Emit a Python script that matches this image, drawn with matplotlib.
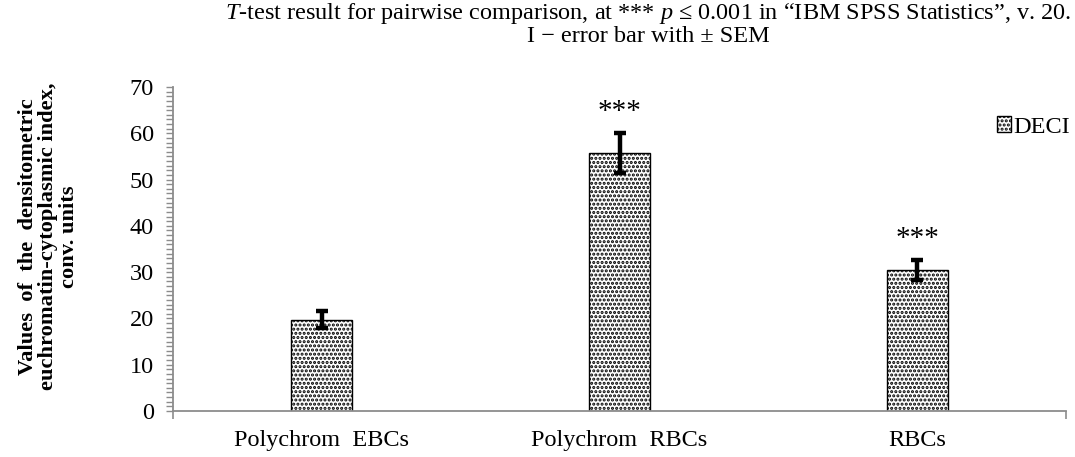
import matplotlib
matplotlib.use("Agg")
import matplotlib.pyplot as plt
from matplotlib.patches import Patch
from matplotlib.ticker import MultipleLocator, FixedLocator

categories = ["Polychrom  EBCs", "Polychrom  RBCs", "RBCs"]
values = [19.7, 55.7, 30.5]
sem = [1.8, 4.3, 2.2]
stars = ["", "***", "***"]
series_name = "DECI"

plt.rcParams['font.family'] = ['Liberation Serif', 'DejaVu Serif']
plt.rcParams['mathtext.fontset'] = 'custom'
plt.rcParams['mathtext.rm'] = 'Liberation Serif'
plt.rcParams['mathtext.it'] = 'Liberation Serif:italic'
plt.rcParams['hatch.linewidth'] = 1.5

FS = 17.5

fig = plt.figure(figsize=(10.75, 4.57), dpi=100)
ax = fig.add_axes([0.161, 0.1007, 0.8306, 0.7089])

x = list(range(len(categories)))
ax.bar(x, values, width=0.205, color='white', edgecolor='black', linewidth=1.0,
       hatch='....', zorder=2)
ax.errorbar(x, values, yerr=sem, fmt='none', ecolor='black', elinewidth=3.2,
            capsize=4, capthick=3.2, zorder=3)
for xi, v, e, s in zip(x, values, sem, stars):
    if s:
        ax.text(xi, v + e + 3.0, s, ha='center', va='baseline', fontsize=21)

ax.set_xlim(-0.5, 2.5)
ax.set_ylim(0, 70)
ax.yaxis.set_major_locator(MultipleLocator(10))
ax.yaxis.set_minor_locator(MultipleLocator(1))
ax.tick_params(axis='y', which='both', direction='out', length=5, width=1,
               color='#8c8c8c', labelsize=FS, pad=9)
ax.set_xticks(x)
ax.set_xticklabels(categories)
ax.xaxis.set_minor_locator(FixedLocator([-0.5, 2.5]))
ax.tick_params(axis='x', which='major', length=0, labelsize=FS, pad=14)
ax.tick_params(axis='x', which='minor', direction='out', length=6, width=1.2,
               color='#8c8c8c')
for sp in ['top', 'right']:
    ax.spines[sp].set_visible(False)
for sp in ['left', 'bottom']:
    ax.spines[sp].set_color('#8c8c8c')
    ax.spines[sp].set_linewidth(1.3)

fig.text(0.045, 0.482,
         "Values  of  the  densitometric\neuchromatin-cytoplasmic index,\nconv. units",
         rotation=90, ha='center', va='center', fontsize=16.2, fontweight='bold',
         linespacing=1.05)

fig.text(0.603, 0.997,
         "$T$-test result for pairwise comparison, at *** $p$ \u2264 0.001 in \u201cIBM SPSS Statistics\u201d, v. 20.\nI \u2212 error bar with \u00b1 SEM",
         ha='center', va='top', fontsize=FS, linespacing=1.0)

handle = Patch(facecolor='white', edgecolor='black', hatch='....', linewidth=1.0)
fig.legend([handle], [series_name], loc='center left',
           bbox_to_anchor=(0.927, 0.722), frameon=False, fontsize=FS,
           handlelength=0.6, handleheight=0.6, handletextpad=0.1,
           borderaxespad=0, borderpad=0)

fig.savefig("out.png", dpi=100)
